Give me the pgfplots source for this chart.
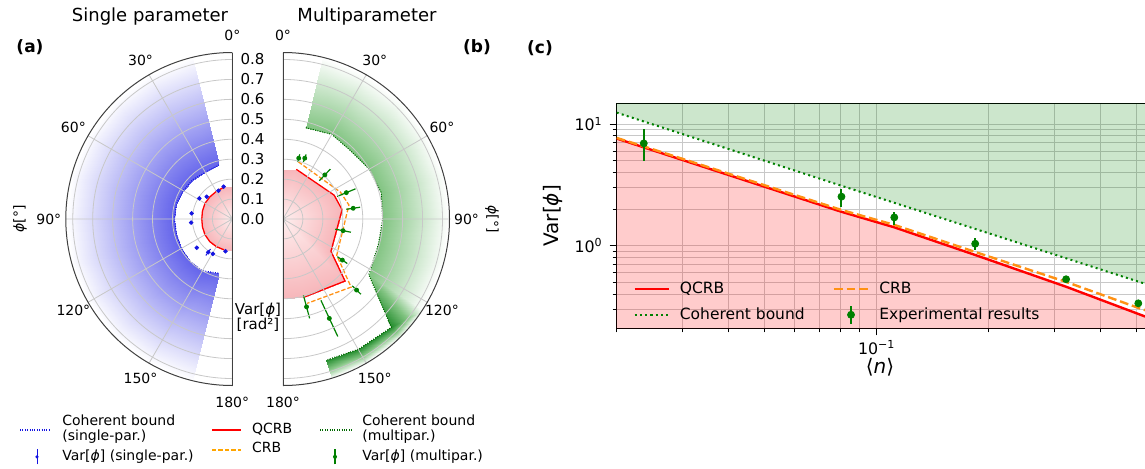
\documentclass[border=0pt]{standalone}
\usepackage{fontspec}
\setmainfont{DejaVu Sans}
\usepackage{pgfplots}
\pgfplotsset{compat=1.18}
\usepgfplotslibrary{polar}
\definecolor{mplgreen}{RGB}{0,128,0}
\definecolor{mplorange}{RGB}{255,145,20}
\definecolor{legorange}{RGB}{255,165,0}
\definecolor{mplblue}{RGB}{20,20,225}
\definecolor{gridgray}{RGB}{200,200,200}
\definecolor{bfA}{RGB}{255,255,255}
\definecolor{bfB}{RGB}{100,100,235}
\definecolor{rfA}{RGB}{254,238,238}
\definecolor{rfB}{RGB}{247,182,186}
\definecolor{gfB}{RGB}{130,196,130}
\definecolor{gfC}{RGB}{35,140,45}
\pgfplotsset{
  colormap={bluefade}{color=(bfA) color=(bfB)},
  colormap={redfade}{color=(rfA) color=(rfB)},
  colormap={greenfade}{color=(bfA) color=(gfB) color=(gfC)},
  mypolar/.style={
    scale only axis, width=166.5pt, height=166.5pt,
    ymin=0, ymax=0.835,
    point meta min=0, point meta max=1,
    grid=major,
    major grid style={gridgray, line width=0.4pt},
    axis line style={black!75, line width=0.5pt},
    major tick length=0pt,
    axis on top,
    xticklabel style={font=\fontsize{7}{8}\selectfont, anchor=center, shift={(\tick:8.5pt)}},
    yticklabel style={font=\fontsize{7.5}{9}\selectfont},
    /pgf/number format/assume math mode=true,
  },
}
\begin{document}
\begin{tikzpicture}
\useasboundingbox (0pt,0pt) rectangle (572.5pt,234pt);

% ---------------- (a) single parameter ----------------
\begin{polaraxis}[mypolar,
  at={(116.15pt,124.5pt)}, anchor=origin,
  xmin=90, xmax=270,
  xtick={90,120,150,180,210,240,270},
  xticklabels={0°,30°,60°,90°,120°,150°,180°},
  ytick={0,0.1,0.2,0.3,0.4,0.5,0.6,0.7,0.8},
  yticklabel style={anchor=west, xshift=0.6pt, /pgf/number format/.cd, fixed, fixed zerofill, precision=1},
]
\addplot[patch, patch type=rectangle, shader=interp, colormap name=bluefade, point meta=explicit] coordinates {
(104,0.28)[1] (104,0.835)[0] (120,0.835)[0] (120,0.27)[1]
(120,0.27)[1] (120,0.835)[0] (135,0.835)[0] (135,0.28)[1]
(135,0.28)[1] (135,0.835)[0] (150,0.835)[0] (150,0.285)[1]
(150,0.285)[1] (150,0.835)[0] (165,0.835)[0] (165,0.29)[1]
(165,0.29)[1] (165,0.835)[0] (180,0.835)[0] (180,0.29)[1]
(180,0.29)[1] (180,0.835)[0] (195,0.835)[0] (195,0.29)[1]
(195,0.29)[1] (195,0.835)[0] (210,0.835)[0] (210,0.295)[1]
(210,0.295)[1] (210,0.835)[0] (225,0.835)[0] (225,0.30)[1]
(225,0.30)[1] (225,0.835)[0] (240,0.835)[0] (240,0.30)[1]
(240,0.30)[1] (240,0.835)[0] (256,0.835)[0] (256,0.28)[1]
};
\addplot[patch, shader=interp, colormap name=redfade, point meta=explicit] coordinates {
(90,0)[0] (90,0.162)[1] (105,0.165)[1]
(105,0)[0] (105,0.165)[1] (120,0.16)[1]
(120,0)[0] (120,0.16)[1] (135,0.158)[1]
(135,0)[0] (135,0.158)[1] (150,0.158)[1]
(150,0)[0] (150,0.158)[1] (165,0.155)[1]
(165,0)[0] (165,0.155)[1] (180,0.153)[1]
(180,0)[0] (180,0.153)[1] (195,0.155)[1]
(195,0)[0] (195,0.155)[1] (210,0.158)[1]
(210,0)[0] (210,0.158)[1] (225,0.16)[1]
(225,0)[0] (225,0.16)[1] (240,0.16)[1]
(240,0)[0] (240,0.16)[1] (255,0.16)[1]
(255,0)[0] (255,0.16)[1] (270,0.16)[1]
};
\addplot[mplblue, line width=0.55pt, dash pattern=on 0.5pt off 0.7pt] coordinates {
(104,0.28) (120,0.27) (135,0.28) (150,0.285) (165,0.29) (180,0.29) (195,0.29) (210,0.295) (225,0.30) (240,0.30) (256,0.28)};
\addplot[red, line width=0.65pt] coordinates {
(105,0.165) (120,0.16) (135,0.158) (150,0.158) (165,0.155) (180,0.153) (195,0.155) (210,0.158) (225,0.16) (240,0.16) (255,0.16)};
% radial error bars (single-par.)
\addplot[mplblue, line width=0.5pt, unbounded coords=jump] coordinates {
(105,0.160) (105,0.176) (nan,nan)
(116,0.150) (116,0.166) (nan,nan)
(139,0.162) (139,0.178) (nan,nan)
(148,0.187) (148,0.203) (nan,nan)
(172,0.198) (172,0.214) (nan,nan)
(185,0.199) (185,0.215) (nan,nan)
(219,0.221) (219,0.237) (nan,nan)
(234,0.186) (234,0.226) (nan,nan)
(241,0.192) (241,0.208) (nan,nan)
(258,0.157) (258,0.173)
};
\addplot[only marks, mark=*, mark size=0.9pt, mplblue] coordinates {
(105,0.168) (116,0.158) (139,0.17) (148,0.195) (172,0.206) (185,0.207) (219,0.229) (234,0.206) (241,0.20) (258,0.165)};
\end{polaraxis}

% ---------------- (b) multiparameter ----------------
\begin{polaraxis}[mypolar,
  at={(141.5pt,124.5pt)}, anchor=origin,
  xmin=-90, xmax=90,
  xtick={-90,-60,-30,0,30,60,90},
  xticklabels={180°,150°,120°,90°,60°,30°,0°},
  ytick={0,0.1,0.2,0.3,0.4,0.5,0.6,0.7,0.8},
  yticklabels={},
]
\addplot[patch, patch type=rectangle, shader=interp, colormap name=greenfade, point meta=explicit] coordinates {
(76,0.472)[0.5] (76,0.835)[0] (60,0.835)[0] (60,0.49)[0.5]
(60,0.49)[0.5] (60,0.835)[0] (45,0.835)[0] (45,0.482)[0.5]
(45,0.482)[0.5] (45,0.835)[0] (30,0.835)[0] (30,0.50)[0.5]
(30,0.50)[0.5] (30,0.835)[0] (15,0.835)[0] (15,0.51)[0.5]
(15,0.51)[0.5] (15,0.835)[0] (0,0.835)[0] (0,0.50)[0.5]
(0,0.50)[0.5] (0,0.835)[0] (-15,0.835)[0] (-15,0.495)[0.5]
(-15,0.495)[0.5] (-15,0.835)[0] (-33,0.835)[0] (-33,0.513)[0.5]
(-33,0.513)[0.5] (-33,0.835)[0] (-45,0.835)[0] (-45,0.768)[1]
(-45,0.768)[1] (-45,0.835)[0] (-60,0.835)[0] (-60,0.755)[1]
(-60,0.755)[1] (-60,0.835)[0] (-73,0.835)[0] (-73,0.74)[1]
};
\addplot[patch, shader=interp, colormap name=redfade, point meta=explicit] coordinates {
(90,0)[0] (90,0.245)[1] (75,0.258)[1]
(75,0)[0] (75,0.258)[1] (25,0.283)[1]
(25,0)[0] (25,0.283)[1] (9,0.30)[1]
(9,0)[0] (9,0.30)[1] (-34,0.29)[1]
(-34,0)[0] (-34,0.29)[1] (-45,0.44)[1]
(-45,0)[0] (-45,0.44)[1] (-74,0.405)[1]
(-74,0)[0] (-74,0.405)[1] (-90,0.40)[1]
};
\addplot[mplgreen!80!black, line width=0.55pt, dash pattern=on 0.5pt off 0.7pt] coordinates {
(76,0.472) (60,0.49) (45,0.482) (30,0.50) (15,0.51) (0,0.50) (-15,0.495) (-33,0.513) (-45,0.768) (-60,0.755) (-73,0.74)};
\addplot[red, line width=0.65pt] coordinates {
(75,0.258) (25,0.283) (9,0.30) (-34,0.29) (-45,0.44) (-74,0.405)};
\addplot[mplorange, line width=0.65pt, dash pattern=on 2.2pt off 1pt] coordinates {
(75,0.297) (25,0.318) (12,0.338) (-34,0.325) (-45,0.483) (-74,0.44)};
% radial error bars (multipar.)
\addplot[mplgreen, line width=0.6pt, unbounded coords=jump] coordinates {
(75.5,0.295) (75.5,0.335) (nan,nan)
(70.3,0.304) (70.3,0.344) (nan,nan)
(46.5,0.265) (46.5,0.345) (nan,nan)
(22.6,0.294) (22.6,0.394) (nan,nan)
(8.7,0.321) (8.7,0.391) (nan,nan)
(-11,0.267) (-11,0.347) (nan,nan)
(-34.7,0.332) (-34.7,0.392) (nan,nan)
(-44,0.483) (-44,0.543) (nan,nan)
(-65,0.45) (-65,0.65) (nan,nan)
(-75,0.396) (-75,0.516)
};
\addplot[only marks, mark=*, mark size=1pt, mplgreen] coordinates {
(75.5,0.315) (70.3,0.324) (46.5,0.305) (22.6,0.344) (8.7,0.356) (-11,0.307) (-34.7,0.362) (-44,0.513) (-65,0.55) (-75,0.456)};
\end{polaraxis}

% ---------------- (c) ----------------
\begin{axis}[
  at={(308.35pt,69.85pt)}, anchor=south west,
  scale only axis, width=269.15pt, height=112.5pt,
  xmode=log, ymode=log,
  xmin=0.02, xmax=0.56, ymin=0.2095, ymax=14.8,
  xtick={0.1}, xticklabels={10\textsuperscript{−1}},
  ytick={1,10}, yticklabels={10\textsuperscript{0},10\textsuperscript{1}},
  minor xtick={0.02,0.03,0.04,0.05,0.06,0.07,0.08,0.09,0.2,0.3,0.4,0.5},
  minor ytick={0.3,0.4,0.5,0.6,0.7,0.8,0.9,2,3,4,5,6,7,8,9},
  grid=both,
  major grid style={gridgray, line width=0.45pt},
  minor grid style={gridgray, line width=0.45pt},
  tick align=outside, tick pos=left,
  major tick length=3.5pt, minor tick length=2pt,
  tick style={black, line width=0.45pt},
  axis line style={black, line width=0.6pt},
  ticklabel style={font=\fontsize{7.9}{9}\selectfont},
  xticklabel style={yshift=1pt},
  xlabel={⟨\textit{n}⟩}, ylabel={Var[\textit{ϕ}]},
  label style={font=\fontsize{16}{18}\selectfont},
  every axis x label/.style={at={(axis description cs:0.489,-0.175)}, anchor=center},
  every axis y label/.style={at={(axis description cs:-0.118,0.5)}, rotate=90, anchor=center},
  legend columns=2, legend cell align=left,
  legend style={at={(axis description cs:0.019,-0.01)}, anchor=south west, draw=none, fill=none,
    font=\fontsize{7.75}{9}\selectfont, row sep=1.5pt,
    /tikz/every odd column/.append style={column sep=3pt},
    /tikz/every even column/.append style={column sep=12pt}},
]
\addplot[draw=none, fill=red, fill opacity=0.2, forget plot] coordinates {
(0.02,7.6) (0.02365,6.43) (0.0804,1.90) (0.1115,1.416) (0.184,0.839) (0.323,0.460) (0.505,0.275) (0.56,0.244) (0.56,0.2095) (0.02,0.2095)};
\addplot[draw=none, fill=mplgreen, fill opacity=0.2, forget plot] coordinates {
(0.02,12.4) (0.0804,3.11) (0.56,0.458) (0.56,14.8) (0.02,14.8)};
\addplot[red, line width=1.2pt] coordinates {
(0.02,7.6) (0.02365,6.43) (0.0804,1.90) (0.1115,1.416) (0.184,0.839) (0.323,0.460) (0.505,0.275) (0.56,0.244)};
\addlegendentry{QCRB}
\addplot[mplorange, line width=1.2pt, dash pattern=on 4.4pt off 1.9pt] coordinates {
(0.02,7.69) (0.02365,6.55) (0.0804,1.967) (0.1115,1.483) (0.184,0.888) (0.323,0.504) (0.505,0.3085) (0.56,0.277)};
\addlegendentry{CRB}
\addplot[mplgreen, line width=1pt, dash pattern=on 1pt off 1.65pt] coordinates {
(0.02,12.4) (0.0804,3.11) (0.56,0.458)};
\addlegendentry{Coherent bound}
\addplot[only marks, mark=*, mark size=1.75pt, mplgreen,
  legend image code/.code={\draw[mplgreen, line width=1pt] (0.3cm,-0.16cm) -- (0.3cm,0.16cm); \fill[mplgreen] (0.3cm,0cm) circle (1.75pt);},
  error bars/.cd, y dir=both, y explicit, error mark=none,
  error bar style={line width=1pt, mplgreen}] 
  coordinates {
(0.02365,6.93) += (0,2.11) -= (0,1.96)
(0.0804,2.53) += (0,0.39) -= (0,0.45)
(0.1115,1.708) += (0,0.17) -= (0,0.22)
(0.184,1.038) += (0,0.112) -= (0,0.116)
(0.323,0.530) +- (0,0.02)
(0.505,0.336) +- (0,0.015)
};
\addlegendentry{Experimental results}
\end{axis}

% ---------------- texts ----------------
\node[font=\fontsize{9}{11}\selectfont] at (75pt,225.5pt) {Single parameter};
\node[font=\fontsize{9}{11}\selectfont] at (183.5pt,225.5pt) {Multiparameter};
\node[font=\bfseries\fontsize{8.5}{10}\selectfont] at (15pt,210.5pt) {(a)};
\node[font=\bfseries\fontsize{8.5}{10}\selectfont] at (238.5pt,210.5pt) {(b)};
\node[font=\bfseries\fontsize{8.5}{10}\selectfont] at (270pt,210pt) {(c)};
\node[rotate=90, font=\fontsize{7}{8}\selectfont] at (10pt,124.5pt) {\textit{ϕ}[°]};
\node[rotate=-90, font=\fontsize{7}{8}\selectfont] at (246pt,124.5pt) {\textit{ϕ}[°]};
\node[font=\fontsize{7.5}{9}\selectfont] at (129pt,79pt) {Var[\textit{ϕ}]};
\node[font=\fontsize{7.5}{9}\selectfont] at (129pt,71.5pt) {[rad²]};

% ---------------- bottom legend ----------------
\begin{scope}[font=\fontsize{7}{8}\selectfont]
\draw[mplblue, line width=0.55pt, dash pattern=on 0.5pt off 0.7pt] (10pt,19pt) -- (25pt,19pt);
\node[anchor=west, inner sep=0pt] at (31pt,24pt) {Coherent bound};
\node[anchor=west, inner sep=0pt] at (31pt,15.7pt) {(single-par.)};
\draw[mplblue, line width=0.5pt] (18.5pt,1.8pt) -- (18.5pt,9.5pt);
\fill[mplblue] (18.5pt,5.6pt) circle (0.9pt);
\node[anchor=west, inner sep=0pt] at (31pt,5.6pt) {Var[\textit{ϕ}] (single-par.)};
\draw[red, line width=0.65pt] (106pt,19pt) -- (120.5pt,19pt);
\node[anchor=west, inner sep=0pt] at (125.8pt,19.5pt) {QCRB};
\draw[legorange, line width=0.9pt, dash pattern=on 2.2pt off 1pt] (106pt,9.2pt) -- (120.5pt,9.2pt);
\node[anchor=west, inner sep=0pt] at (125.8pt,10.3pt) {CRB};
\draw[mplgreen!80!black, line width=0.55pt, dash pattern=on 0.5pt off 0.7pt] (160pt,19pt) -- (176pt,19pt);
\node[anchor=west, inner sep=0pt] at (181pt,24pt) {Coherent bound};
\node[anchor=west, inner sep=0pt] at (181pt,15.7pt) {(multipar.)};
\draw[mplgreen, line width=0.6pt] (167.5pt,1.8pt) -- (167.5pt,9.5pt);
\fill[mplgreen] (167.5pt,5.6pt) circle (1pt);
\node[anchor=west, inner sep=0pt] at (181pt,5.6pt) {Var[\textit{ϕ}] (multipar.)};
\end{scope}
\end{tikzpicture}
\end{document}
